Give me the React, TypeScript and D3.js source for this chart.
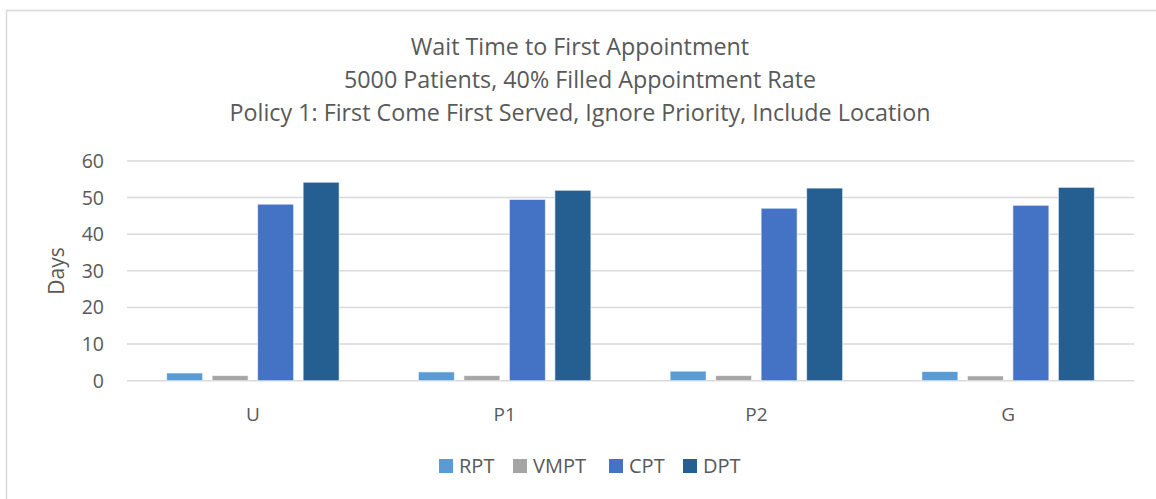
import React from "react";
import * as d3 from "d3";

// Wait time to first appointment (days), per patient group
const categories = ["U", "P1", "P2", "G"];
const seriesNames = ["RPT", "VMPT", "CPT", "DPT"];
const RPT = [2.1, 2.4, 2.6, 2.5];
const VMPT = [1.4, 1.4, 1.4, 1.3];
const CPT = [48.2, 49.5, 47.1, 47.9];
const DPT = [54.2, 52.0, 52.6, 52.8];
const yTicks = [0, 10, 20, 30, 40, 50, 60];
const titleLines = [
  "Wait Time to First Appointment",
  "5000 Patients, 40% Filled Appointment Rate",
  "Policy 1: First Come First Served, Ignore Priority, Include Location",
];

const colors = ["#5B9BD5", "#A5A5A5", "#4472C4", "#255E91"];

export default function App() {
  const width = 1156;
  const height = 499;
  const font = "'Open Sans', sans-serif";
  const textColor = "#595959";

  const values = [RPT, VMPT, CPT, DPT];

  const plot = { left: 127, right: 1134, top: 161, bottom: 380.7 };

  const x0 = d3.scaleBand().domain(categories).range([plot.left, plot.right]).padding(0);
  const groupW = 172.5;
  const x1 = d3.scaleBand().domain(seriesNames).range([0, groupW]).paddingInner(0.2088).paddingOuter(0);
  const y = d3.scaleLinear().domain([0, 60]).range([plot.bottom, plot.top]);

  const legendX = [439, 513, 609, 683];

  return (
    <svg
      width={width}
      height={height}
      style={{ position: "absolute", left: 0, top: 0, display: "block", background: "#fff" }}
      fontFamily={font}
    >
      {/* chart frame */}
      <rect x={6.5} y={10.5} width={width + 20} height={height + 20} fill="#fff" stroke="#d9d9d9" strokeWidth={1.5} />

      {titleLines.map((t, i) => (
        <text key={t} x={580} y={55 + i * 33} textAnchor="middle" fontSize={23.3} fill={textColor}>
          {t}
        </text>
      ))}

      {/* gridlines + y ticks */}
      {yTicks.map((t) => (
        <g key={t}>
          <line x1={plot.left} x2={plot.right} y1={y(t)} y2={y(t)} stroke="#d9d9d9" strokeWidth={1.5} />
          <text x={104} y={y(t) + 7} textAnchor="end" fontSize={19.5} fill={textColor}>
            {t}
          </text>
        </g>
      ))}

      <text transform={`translate(64,271) rotate(-90)`} textAnchor="middle" fontSize={21} fill={textColor}>
        Days
      </text>

      {/* bars */}
      {categories.map((c, ci) => {
        const off = (x0(c) || 0) + (x0.bandwidth() - groupW) / 2;
        return (
          <g key={c}>
            {seriesNames.map((s, si) => (
              <rect
                key={s}
                x={off + (x1(s) || 0)}
                y={y(values[si][ci])}
                width={x1.bandwidth()}
                height={y(0) - y(values[si][ci])}
                fill={colors[si]}
                stroke="#fff"
                strokeOpacity={0.6}
                strokeWidth={1}
              />
            ))}
            <text x={(x0(c) || 0) + x0.bandwidth() / 2} y={421} textAnchor="middle" fontSize={19} fill={textColor}>
              {c}
            </text>
          </g>
        );
      })}

      {/* legend */}
      {seriesNames.map((s, i) => (
        <g key={s} transform={`translate(${legendX[i]},466)`}>
          <rect x={0} y={-7} width={14} height={14} fill={colors[i]} />
          <text x={20} y={7} fontSize={20} fill={textColor}>
            {s}
          </text>
        </g>
      ))}
    </svg>
  );
}
